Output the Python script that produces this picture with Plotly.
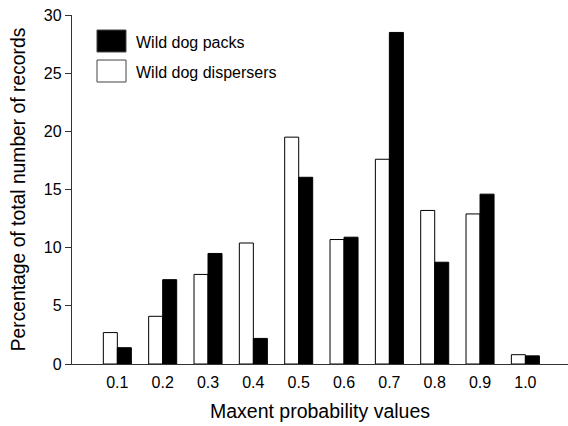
import plotly.graph_objects as go

categories = ["0.1", "0.2", "0.3", "0.4", "0.5", "0.6", "0.7", "0.8", "0.9", "1.0"]
dispersers = [2.7, 4.1, 7.7, 10.4, 19.5, 10.7, 17.6, 13.2, 12.9, 0.8]
packs = [1.4, 7.25, 9.5, 2.2, 16.05, 10.9, 28.5, 8.75, 14.6, 0.7]
y_ticks = [0, 5, 10, 15, 20, 25, 30]

xpos = list(range(1, len(categories) + 1))
FONT = "Liberation Sans, Arial, sans-serif"

fig = go.Figure()
fig.add_trace(go.Bar(x=xpos, y=dispersers, name="Wild dog dispersers",
                     marker=dict(color="white", line=dict(color="black", width=1))))
fig.add_trace(go.Bar(x=xpos, y=packs, name="Wild dog packs",
                     marker=dict(color="black", line=dict(color="black", width=1))))

# custom legend (large swatches as in the reference)
legend_items = [("Wild dog packs", "black", 0.957, 0.894, 0.922),
                ("Wild dog dispersers", "white", 0.871, 0.808, 0.836)]
for label, col, y1, y0, ym in legend_items:
    fig.add_shape(type="rect", xref="paper", yref="paper",
                  x0=0.0504, x1=0.1089, y0=y0, y1=y1,
                  fillcolor=col, line=dict(color="#444", width=1))
    fig.add_annotation(xref="paper", yref="paper", x=0.126, y=ym,
                       text=label, showarrow=False, xanchor="left", yanchor="middle",
                       font=dict(family=FONT, size=16, color="black"))

fig.update_layout(
    width=568, height=426,
    margin=dict(l=72, r=0, t=15, b=62),
    paper_bgcolor="white", plot_bgcolor="white",
    barmode="group", bargap=0.382, bargroupgap=0,
    showlegend=False,
    font=dict(family=FONT, size=16, color="black"),
    xaxis=dict(range=[0, 10.94], tickvals=xpos, ticktext=categories,
               showline=True, linecolor="#333", linewidth=1.3, ticks="",
               showgrid=False, zeroline=False,
               tickfont=dict(size=16), ticklabelstandoff=4,
               title=dict(text="Maxent probability values", font=dict(size=19.5), standoff=14)),
    yaxis=dict(range=[0, 30], tickvals=y_ticks,
               showline=True, linecolor="#333", linewidth=1.3,
               ticks="outside", ticklen=6, tickcolor="#333",
               showgrid=False, zeroline=False,
               tickfont=dict(size=16),
               title=dict(text="Percentage of total number of records", font=dict(size=19.3), standoff=13)),
)

fig.write_html("out.html")
